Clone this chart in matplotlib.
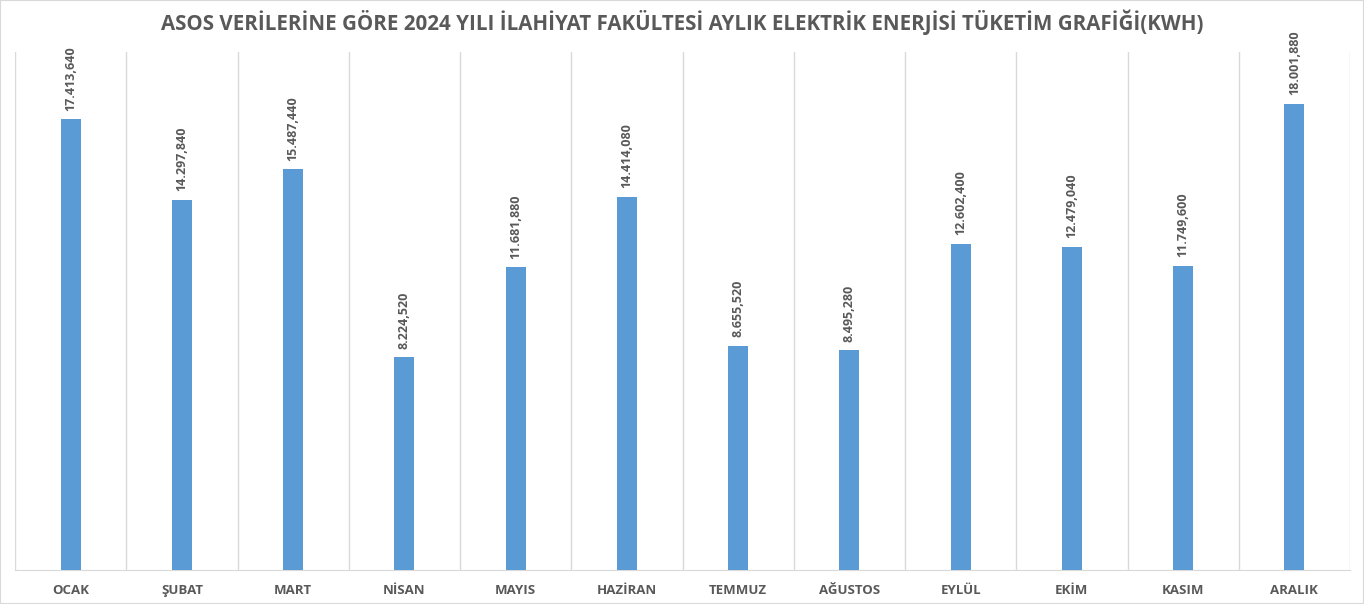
import matplotlib.pyplot as plt
from matplotlib.patches import Rectangle

months = ['OCAK', 'ŞUBAT', 'MART', 'NİSAN', 'MAYIS', 'HAZİRAN',
          'TEMMUZ', 'AĞUSTOS', 'EYLÜL', 'EKİM', 'KASIM', 'ARALIK']
kwh = [17413640, 14297840, 15487440, 8224520, 11681880, 14414080,
       8655520, 8495280, 12602400, 12479040, 11749600, 18001880]
labels = ['17.413,640', '14.297,840', '15.487,440', '8.224,520', '11.681,880', '14.414,080',
          '8.655,520', '8.495,280', '12.602,400', '12.479,040', '11.749,600', '18.001,880']

title = 'ASOS VERİLERİNE GÖRE 2024 YILI İLAHİYAT FAKÜLTESİ AYLIK ELEKTRİK ENERJİSİ TÜKETİM GRAFİĞİ(KWH)'

plt.rcParams['font.family'] = ['Open Sans', 'DejaVu Sans']
text_col = '#595959'
bar_col = '#5B9BD5'
grid_col = '#D9D9D9'

fig = plt.figure(figsize=(13.64, 6.04), dpi=100)
ax = fig.add_axes([15 / 1364, 1 - 570 / 604, 1335 / 1364, 518 / 604])

x = range(len(months))
bars = ax.bar(x, kwh, width=0.18, color=bar_col, zorder=3)

for b, lab in zip(bars, labels):
    ax.annotate(lab, (b.get_x() + b.get_width() / 2, b.get_height()),
                xytext=(0, 6), textcoords='offset points', rotation=90,
                ha='center', va='bottom', fontsize=9, fontweight='bold', color=text_col)

ax.set_xlim(-0.5, len(months) - 0.5)
ax.set_ylim(0, 20000000)
# vertical separators between categories
for i in range(len(months) + 1):
    ax.axvline(i - 0.5, color=grid_col, lw=1, zorder=1)

ax.set_yticks([])
ax.set_xticks(list(x))
ax.set_xticklabels(months, fontsize=9.5, fontweight='bold', color=text_col)
ax.tick_params(axis='x', length=0, pad=10)
for s in ['top', 'right', 'left']:
    ax.spines[s].set_visible(False)
ax.spines['bottom'].set_color(grid_col)

fig.text(0.5, 1 - 22 / 604, title, ha='center', va='center',
         fontsize=14.8, fontweight='bold', color=text_col)

fig.patches.append(Rectangle((0, 0), 1, 1, transform=fig.transFigure,
                             fill=False, edgecolor='#D9D9D9', lw=1.5))

fig.savefig('out.png', dpi=100)
